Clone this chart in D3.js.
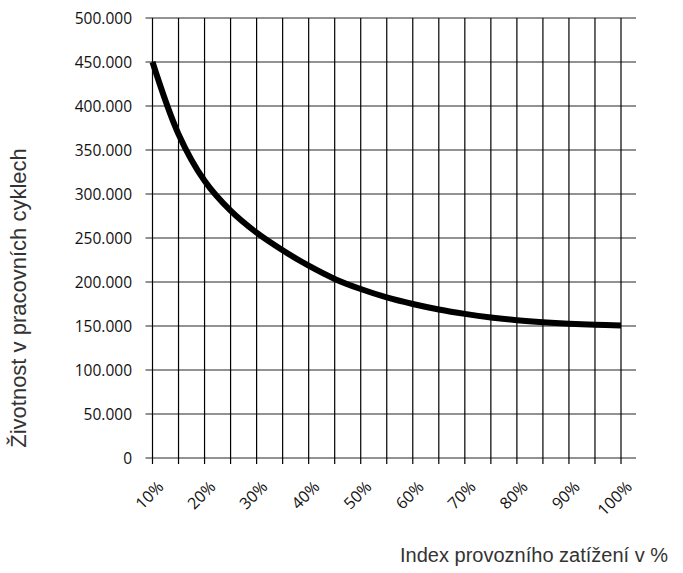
<!DOCTYPE html>
<html>
<head>
<meta charset="utf-8">
<script src="https://cdn.jsdelivr.net/npm/d3@7"></script>
<style>
  body { margin: 0; background: #fff; }
</style>
</head>
<body>
<svg></svg>
<script>
// load index (%) and service life in work cycles
var loadPct = [10, 15, 20, 25, 30, 35, 40, 45, 50, 55, 60, 65, 70, 75, 80, 85, 90, 95, 100];
var cycles = [450000, 368000, 315000, 281000, 256000, 236000, 218500, 203500, 192000, 182500,
              175000, 168800, 163800, 159700, 156600, 154300, 152600, 151400, 150500];
var xTicks = [10, 20, 30, 40, 50, 60, 70, 80, 90, 100];
var xGrid = [10, 15, 20, 25, 30, 35, 40, 45, 50, 55, 60, 65, 70, 75, 80, 85, 90, 95, 100];
var yTicks = [0, 50000, 100000, 150000, 200000, 250000, 300000, 350000, 400000, 450000, 500000];

var width = 683, height = 573;

var svg = d3.select("svg")
    .attr("width", width)
    .attr("height", height);

var x = d3.scaleLinear().domain([10, 100]).range([152.5, 621]);
var y = d3.scaleLinear().domain([0, 500000]).range([458, 18]);

var czFormat = d3.formatLocale({decimal: ",", thousands: ".", grouping: [3], currency: ["", " Kč"]}).format(",");

// horizontal grid (grey)
svg.append("g")
    .selectAll("line")
    .data(yTicks)
    .enter()
    .append("line")
    .attr("x1", x(10) - 7)
    .attr("x2", x(100) + 15)
    .attr("y1", d => y(d))
    .attr("y2", d => y(d))
    .attr("stroke", "#6e6e6e")
    .attr("stroke-width", 1.3)

// vertical grid (black), runs a bit below zero as tick marks
svg.append("g")
    .selectAll("line")
    .data(xGrid)
    .enter()
    .append("line")
    .attr("x1", d => x(d))
    .attr("x2", d => x(d))
    .attr("y1", y(500000))
    .attr("y2", y(0) + 6)
    .attr("stroke", "#000")
    .attr("stroke-width", 1.2)

// y tick labels
svg.append("g")
    .selectAll("text")
    .data(yTicks)
    .enter()
    .append("text")
    .attr("x", 132)
    .attr("y", d => y(d))
    .attr("dy", "0.36em")
    .attr("text-anchor", "end")
    .attr("font-family", "Open Sans")
    .attr("font-size", 15.5)
    .attr("fill", "#111")
    .text(d => czFormat(d))

// x tick labels, rotated
svg.append("g")
    .selectAll("text")
    .data(xTicks)
    .enter()
    .append("text")
    .attr("transform", d => "translate(" + (x(d) + 12) + "," + 488 + ") rotate(-45)")
    .attr("text-anchor", "end")
    .attr("font-family", "Open Sans")
    .attr("font-size", 16)
    .attr("fill", "#111")
    .text(d => d + "%")

// the curve
var line = d3.line()
    .x((d, i) => x(loadPct[i]))
    .y(d => y(d))
    .curve(d3.curveCatmullRom.alpha(0.5))

svg.append("path")
    .attr("d", line(cycles))
    .attr("fill", "none")
    .attr("stroke", "#000")
    .attr("stroke-width", 6)

// axis titles
svg.append("text")
    .attr("transform", "translate(26,298) rotate(-90)")
    .attr("text-anchor", "middle")
    .attr("font-family", "Liberation Sans")
    .attr("font-size", 22)
    .attr("fill", "#333")
    .text("Životnost v pracovních cyklech")

svg.append("text")
    .attr("x", 668)
    .attr("y", 562)
    .attr("text-anchor", "end")
    .attr("font-family", "Liberation Sans")
    .attr("font-size", 20)
    .attr("fill", "#333")
    .text("Index provozního zatížení v %")
</script>
</body>
</html>
